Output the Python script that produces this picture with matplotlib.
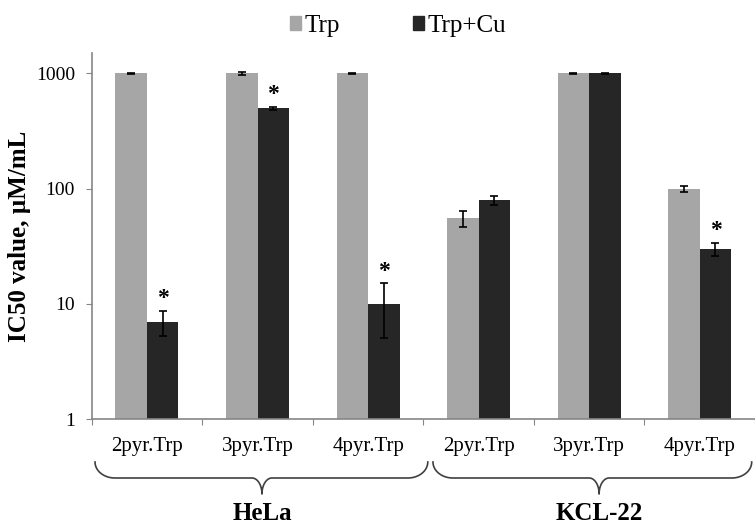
import numpy as np
import matplotlib
matplotlib.use("agg")
import matplotlib.pyplot as plt
from matplotlib.patches import Patch
from matplotlib.transforms import blended_transform_factory

plt.rcParams["font.family"] = ["Liberation Serif", "DejaVu Serif"]

# data
compounds = ["2pyr.Trp", "3pyr.Trp", "4pyr.Trp", "2pyr.Trp", "3pyr.Trp", "4pyr.Trp"]
cell_lines = ["HeLa", "KCL-22"]
trp = [1000, 1000, 1000, 55, 1000, 100]
trp_err = [10, 25, 10, 9, 8, 6]
trp_cu = [7, 500, 10, 79, 1000, 30]
trp_cu_err = [1.7, 15, 5, 7, 10, 4]
significant = [True, True, True, False, False, True]

GRAY = "#a6a6a6"
DARK = "#262626"
AXIS = "#868686"

fig = plt.figure(figsize=(7.55, 5.25), dpi=100)
ax = fig.add_axes([91.7 / 755, 1 - 419 / 525, 663.3 / 755, 366 / 525])

x = np.arange(len(compounds))
w = 0.285
err_kw = dict(ecolor="black", elinewidth=1.2, capsize=3.2, capthick=1.2)
ax.bar(x - w / 2, trp, w, color=GRAY, yerr=trp_err, error_kw=err_kw, label="Trp")
ax.bar(x + w / 2, trp_cu, w, color=DARK, yerr=trp_cu_err, error_kw=err_kw, label="Trp+Cu")

for xi, v, e, s in zip(x, trp_cu, trp_cu_err, significant):
    if s:
        ax.annotate("*", xy=(xi + w / 2, v + e), xytext=(0, 1), textcoords="offset points",
                    ha="center", va="bottom", fontsize=17, fontweight="bold")

ax.set_yscale("log")
ax.set_ylim(1, 1500)
ax.set_xlim(-0.5, len(compounds) - 0.5)
ax.set_yticks([1, 10, 100, 1000])
ax.set_yticklabels(["1", "10", "100", "1000"])
ax.minorticks_off()
ax.set_xticks(np.arange(len(compounds) + 1) - 0.5, minor=False)
ax.set_xticklabels([])
ax.set_xticks(x, minor=True)
ax.set_xticklabels(compounds, minor=True)
ax.tick_params(axis="x", which="major", length=4, color=AXIS, direction="out")
ax.tick_params(axis="x", which="minor", length=0, pad=13, labelsize=15)
ax.tick_params(axis="y", length=4.5, color=AXIS, pad=7.5, labelsize=14)
for side in ("top", "right"):
    ax.spines[side].set_visible(False)
for side in ("left", "bottom"):
    ax.spines[side].set_color(AXIS)
    ax.spines[side].set_linewidth(1.2)

fig.text(20 / 755, 1 - 236 / 525, "IC50 value, µM/mL", rotation=90, ha="center", va="center",
         fontsize=18, fontweight="bold")

# curly braces under each cell line group
tr = blended_transform_factory(ax.transData, fig.transFigure)
y_top, y_mid, y_tip = 1 - 462 / 525, 1 - 478 / 525, 1 - 494 / 525


def brace(x0, x1, xc, rx=0.18, rt=0.09):
    t = np.linspace(0, np.pi / 2, 30)
    lx = np.concatenate([x0 + rx * (1 - np.cos(t)), xc - rt + rt * np.sin(t)])
    ly = np.concatenate([y_mid + (y_top - y_mid) * (1 - np.sin(t)), y_tip + (y_mid - y_tip) * np.cos(t)])
    rxs = np.concatenate([x1 - rx * (1 - np.cos(t)), xc + rt - rt * np.sin(t)])
    bx = np.concatenate([lx, rxs[::-1]])
    by = np.concatenate([ly, ly[::-1]])
    ax.plot(bx, by, color="#404040", lw=1.2, transform=tr, clip_on=False)


group_tips = [1.04, 4.09]
brace(-0.47, 2.54, group_tips[0])
brace(2.587, 5.47, group_tips[1])
for xc, name in zip(group_tips, cell_lines):
    ax.text(xc, 1 - 514 / 525, name, transform=tr, ha="center", va="center",
            fontsize=18, fontweight="bold")

handles = [Patch(color=GRAY, label="Trp"), Patch(color=DARK, label="Trp+Cu")]
fig.legend(handles=handles, loc="upper center", bbox_to_anchor=(0.527, 1.0), ncol=2,
           frameon=False, fontsize=18, handlelength=0.45, handleheight=0.45,
           handletextpad=0.15, columnspacing=2.9, borderaxespad=0.2)

fig.savefig("out.png", dpi=100)
